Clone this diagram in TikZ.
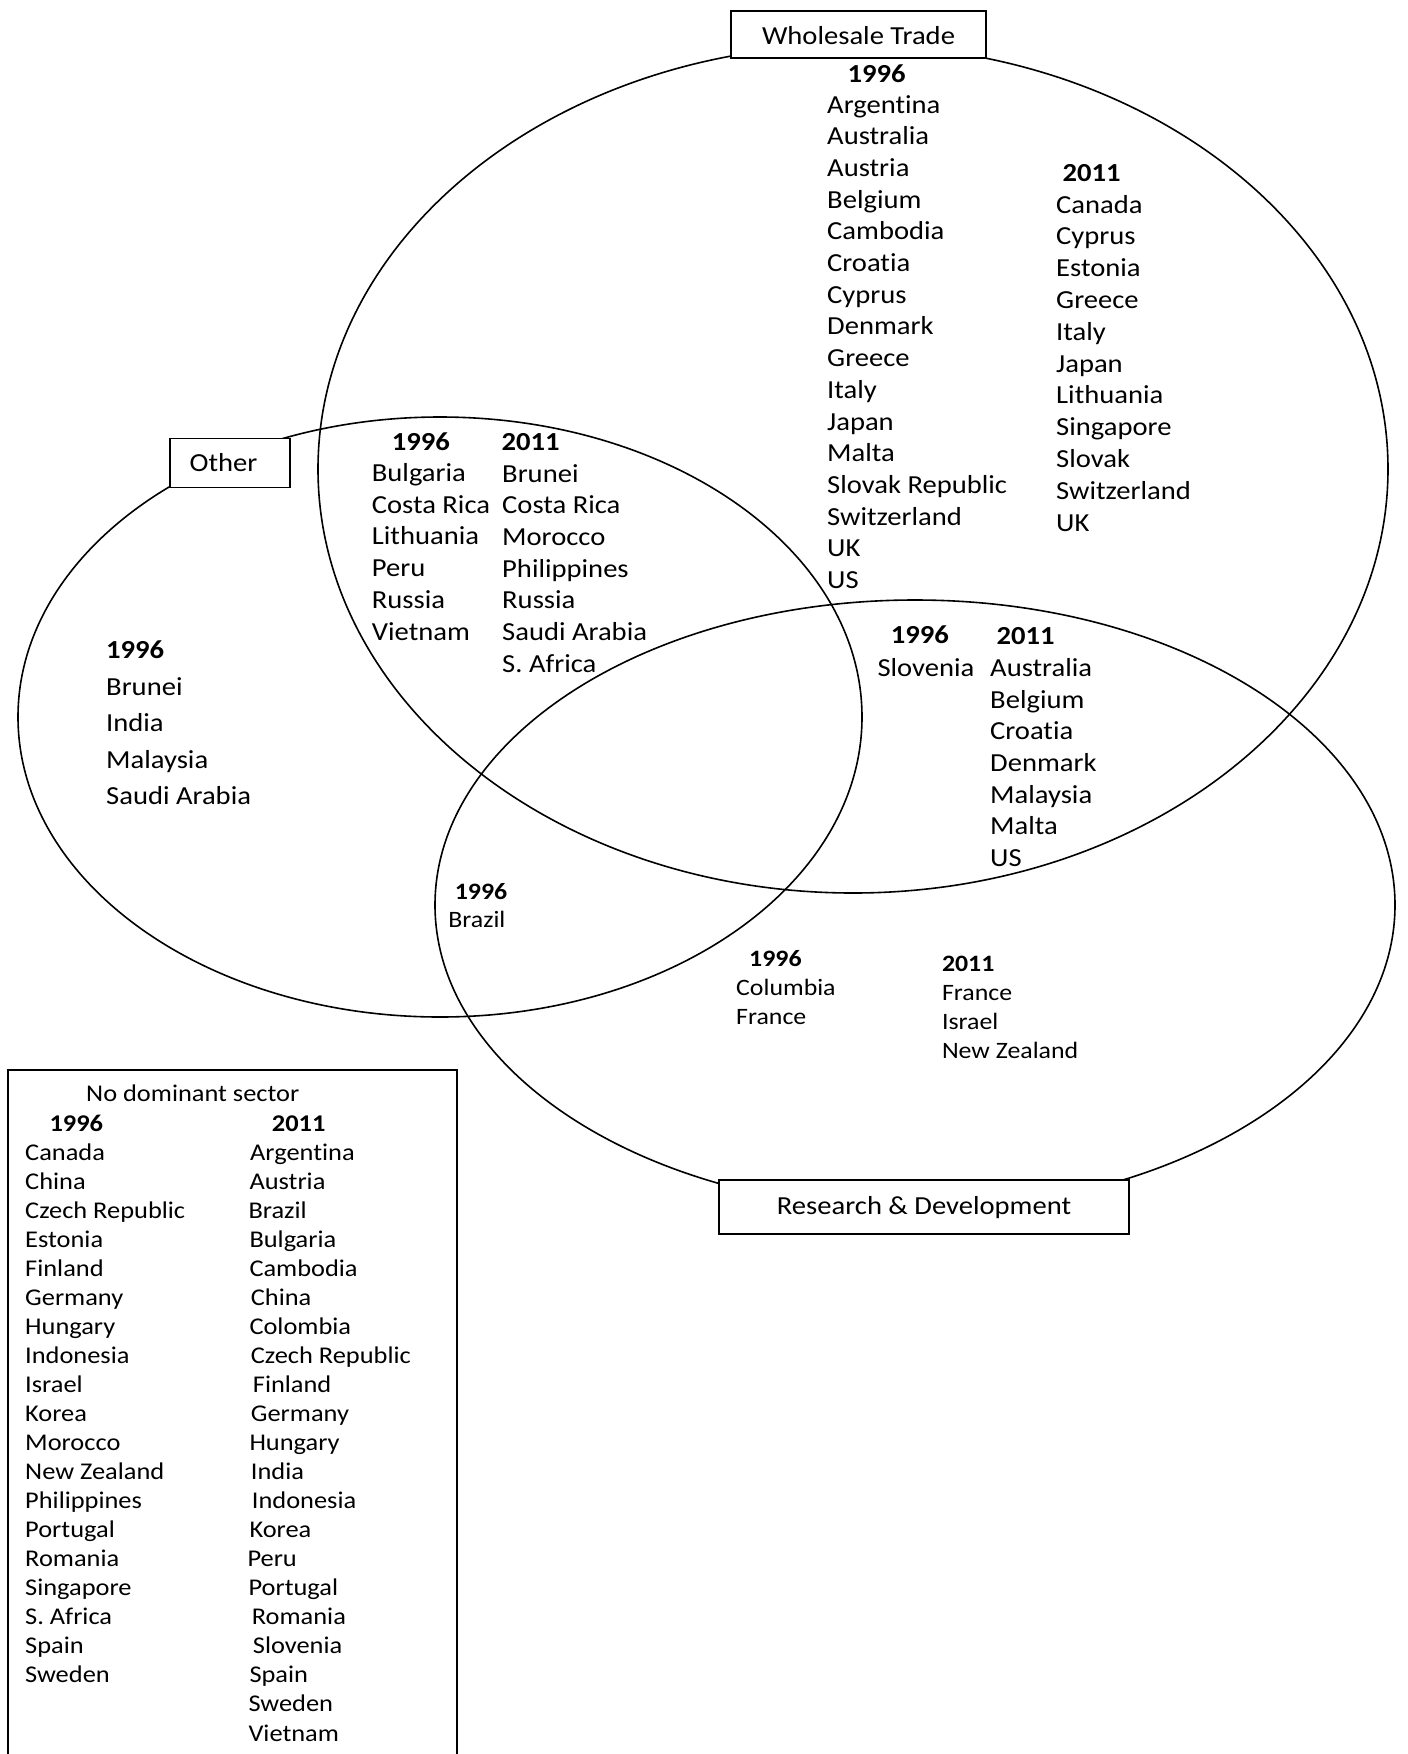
\documentclass[tikz,border=0pt]{standalone}
\usepackage{fontspec}
\setmainfont{Carlito}[FakeStretch=1.1, Ligatures=NoCommon, RawFeature={-clig;-dlig}]
\begin{document}
\begin{tikzpicture}[x=1pt,y=-1pt,
  vennline/.style={line width=1.6pt},
  lblbox/.style={draw, line width=1.5pt, fill=white, inner sep=0pt},
  lbltxt/.style={font=\fontsize{26}{30}\selectfont},
  itm/.style={anchor=base west, inner sep=0pt, font=\fontsize{26}{30}\selectfont},
  hdr/.style={anchor=base west, inner sep=0pt, font=\fontsize{26}{30}\selectfont\bfseries},
  sitm/.style={anchor=base west, inner sep=0pt, font=\fontsize{23.5}{28}\selectfont},
  shdr/.style={anchor=base west, inner sep=0pt, font=\fontsize{23.5}{28}\selectfont\bfseries},
  bitm/.style={anchor=base west, inner sep=0pt, font=\fontsize{24}{28}\selectfont},
  bhdr/.style={anchor=base west, inner sep=0pt, font=\fontsize{24}{28}\selectfont\bfseries}]
\fill[white] (0,0) rectangle (1408,1754);
\useasboundingbox (0,0) rectangle (1408,1754);

% Venn ellipses
\draw[vennline] (853,469) ellipse [x radius=535pt, y radius=424pt];
\draw[vennline] (440,717) ellipse [x radius=422pt, y radius=300pt];
\draw[vennline] (915,905) ellipse [x radius=480pt, y radius=305pt];

% label boxes
\node[lblbox, lbltxt, minimum width=255pt, minimum height=47pt, text height=20.6pt, text depth=0pt] (wtbox) at (858.5,34.5) {Wholesale Trade};
\node[lblbox, minimum width=120pt, minimum height=49pt] (otherbox) at (230,462.8) {};
\node[itm] (othertxt) at (189.5,471) {Other};
\node[lblbox, lbltxt, minimum width=410pt, minimum height=54pt, text height=15.6pt, text depth=0pt] (rdbox) at (924,1207) {Research \& Development};

% Wholesale Trade only
\node[hdr] (wt96h) at (847.3,82) {1996};
\foreach \t [count=\i from 0] in {Argentina, Australia, Austria, Belgium, Cambodia, Croatia, Cyprus, Denmark, Greece, Italy, Japan, Malta, Slovak Republic, Switzerland, UK, US}
  \node[itm] (wt96-\i) at (827,{113+31.7*\i}) {\t};
\node[hdr] (wt11h) at (1062.5,181) {2011};
\foreach \t [count=\i from 0] in {Canada, Cyprus, Estonia, Greece, Italy, Japan, Lithuania, Singapore, Slovak, Switzerland, UK}
  \node[itm] (wt11-\i) at (1056,{213+31.8*\i}) {\t};

% Other & Wholesale Trade
\node[hdr] (ow96h) at (391.7,450) {1996};
\foreach \t [count=\i from 0] in {Bulgaria, Costa Rica, Lithuania, Peru, Russia, Vietnam}
  \node[itm] (ow96-\i) at (371.7,{481.5+31.7*\i}) {\t};
\node[hdr] (ow11h) at (501.5,450.5) {2011};
\foreach \t [count=\i from 0] in {Brunei, Costa Rica, Morocco, Philippines, Russia, Saudi Arabia, S. Africa}
  \node[itm] (ow11-\i) at (502,{482+31.7*\i}) {\t};

% Other only
\node[hdr] (ot96h) at (106,658) {1996};
\foreach \t [count=\i from 0] in {Brunei, India, Malaysia, Saudi Arabia}
  \node[itm] (ot96-\i) at (106,{695+36.6*\i}) {\t};

% Wholesale Trade & R&D
\node[hdr] (wr96h) at (890.7,643) {1996};
\node[itm] (wr96-0) at (877.3,676) {Slovenia};
\node[hdr] (wr11h) at (996.4,644) {2011};
\foreach \t [count=\i from 0] in {Australia, Belgium, Croatia, Denmark, Malaysia, Malta, US}
  \node[itm] (wr11-\i) at (990,{676.7+31.6*\i}) {\t};

% Other & R&D
\node[shdr] (or96h) at (454.6,899.5) {1996};
\node[sitm] (or96-0) at (448.2,927.7) {Brazil};

% R&D only
\node[shdr] (rd96h) at (749,966.5) {1996};
\node[sitm] (rd96-0) at (736,995) {Columbia};
\node[sitm] (rd96-1) at (736,1024) {France};
\node[shdr] (rd11h) at (941.8,971) {2011};
\foreach \t [count=\i from 0] in {France, Israel, New Zealand}
  \node[sitm] (rd11-\i) at (941.8,{1000+29*\i}) {\t};

% No dominant sector box
\draw[line width=1.5pt] (8,1754) -- (8,1070) -- (457,1070) -- (457,1754);
\node[bitm] (ndtitle) at (86,1101.6) {No dominant sector};
\node[bhdr] (nd96h) at (49.3,1131) {1996};
\node[bhdr] (nd11h) at (271.7,1131) {2011};
\foreach \t [count=\i from 0] in {Canada, China, Czech Republic, Estonia, Finland, Germany, Hungary, Indonesia, Israel, Korea, Morocco, New Zealand, Philippines, Portugal, Romania, Singapore, S. Africa, Spain, Sweden}
  \node[bitm] (nd96-\i) at (25,{1160+29.05*\i}) {\t};
\foreach \x/\t [count=\i from 0] in {250/Argentina, 249.3/Austria, 248.3/Brazil, 249.3/Bulgaria, 249.3/Cambodia, 250.7/China, 249.3/Colombia, 250.7/Czech Republic, 252.7/Finland, 250.7/Germany, 249.3/Hungary, 250.7/India, 251.7/Indonesia, 249.3/Korea, 247.3/Peru, 248.3/Portugal, 251.7/Romania, 252.7/Slovenia, 249.3/Spain, 248.3/Sweden, 248.3/Vietnam}
  \node[bitm] (nd11-\i) at (\x,{1160+29.05*\i}) {\t};
\end{tikzpicture}
\end{document}
